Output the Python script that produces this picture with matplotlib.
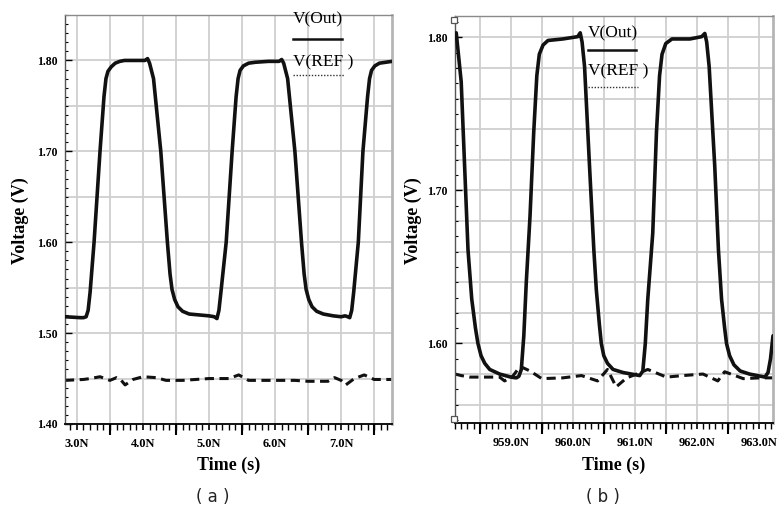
import matplotlib
matplotlib.use("Agg")
import matplotlib.pyplot as plt
import numpy as np

# ---------------- data (a) ----------------
t_out_a = [2.82, 3.05, 3.10, 3.14, 3.17, 3.20, 3.26, 3.35, 3.41, 3.44, 3.47, 3.52, 3.58, 3.65, 3.72,
           3.90, 4.03, 4.07, 4.10, 4.16, 4.27, 4.37, 4.41, 4.44, 4.48, 4.53, 4.60, 4.70, 4.85, 5.00,
           5.08, 5.12, 5.15, 5.18, 5.26, 5.35, 5.41, 5.44, 5.47, 5.52, 5.60, 5.70, 5.90, 6.06, 6.10,
           6.13, 6.19, 6.30, 6.40, 6.44, 6.47, 6.51, 6.56, 6.63, 6.73, 6.88, 7.00, 7.06, 7.10, 7.13,
           7.16, 7.19, 7.26, 7.33, 7.40, 7.43, 7.46, 7.51, 7.58, 7.77]
v_out_a = [1.518, 1.517, 1.517, 1.518, 1.525, 1.545, 1.600, 1.700, 1.760, 1.780, 1.788, 1.793, 1.797, 1.799, 1.800,
           1.800, 1.800, 1.802, 1.797, 1.780, 1.700, 1.600, 1.565, 1.548, 1.537, 1.529, 1.524, 1.521, 1.520, 1.519,
           1.518, 1.516, 1.525, 1.545, 1.600, 1.700, 1.760, 1.780, 1.789, 1.794, 1.797, 1.798, 1.799, 1.799, 1.801,
           1.797, 1.780, 1.700, 1.600, 1.565, 1.548, 1.537, 1.529, 1.524, 1.521, 1.519, 1.518, 1.519, 1.518, 1.517,
           1.525, 1.545, 1.600, 1.700, 1.760, 1.780, 1.789, 1.794, 1.797, 1.799]
t_ref_a = [2.82, 3.10, 3.20, 3.35, 3.50, 3.60, 3.66, 3.73, 3.85, 4.00, 4.20, 4.35, 4.60, 4.80, 5.00,
           5.30, 5.45, 5.60, 6.00, 6.30, 6.50, 6.80, 6.90, 7.00, 7.07, 7.20, 7.35, 7.50, 7.77]
v_ref_a = [1.448, 1.449, 1.450, 1.452, 1.448, 1.451, 1.449, 1.443, 1.449, 1.452, 1.451, 1.448, 1.448, 1.449, 1.450,
           1.450, 1.454, 1.448, 1.448, 1.448, 1.447, 1.447, 1.451, 1.448, 1.443, 1.450, 1.454, 1.449, 1.449]

# ---------------- data (b) ----------------
t_out_b = [958.12, 958.20, 958.31, 958.37, 958.43, 958.47, 958.52, 958.58, 958.66, 958.82, 959.00, 959.09,
           959.13, 959.17, 959.21, 959.25, 959.31, 959.37, 959.42, 959.46, 959.52, 959.60, 959.84, 960.08,
           960.12, 960.15, 960.19, 960.27, 960.34, 960.38, 960.43, 960.46, 960.50, 960.56, 960.65, 960.81,
           961.08, 961.13, 961.17, 961.21, 961.29, 961.35, 961.40, 961.44, 961.50, 961.60, 961.89, 962.08,
           962.13, 962.16, 962.20, 962.29, 962.35, 962.40, 962.45, 962.48, 962.53, 962.60, 962.70, 962.85,
           963.10, 963.15, 963.19, 963.23]
v_out_b = [1.803, 1.771, 1.661, 1.629, 1.610, 1.600, 1.592, 1.587, 1.583, 1.580, 1.578, 1.5775,
           1.5785, 1.583, 1.605, 1.640, 1.683, 1.738, 1.775, 1.789, 1.795, 1.798, 1.799, 1.8005,
           1.803, 1.797, 1.781, 1.716, 1.661, 1.635, 1.612, 1.600, 1.592, 1.587, 1.583, 1.581,
           1.579, 1.582, 1.600, 1.629, 1.672, 1.738, 1.775, 1.789, 1.796, 1.799, 1.799, 1.8005,
           1.8026, 1.797, 1.781, 1.716, 1.661, 1.629, 1.610, 1.600, 1.592, 1.586, 1.582, 1.580,
           1.578, 1.581, 1.590, 1.605]
t_ref_b = [958.10, 958.20, 958.34, 958.82, 958.90, 959.03, 959.15, 959.31, 959.50, 959.84, 960.14, 960.40,
           960.56, 960.70, 960.87, 961.03, 961.21, 961.51, 961.78, 962.10, 962.34, 962.45, 962.75, 963.02, 963.23]
v_ref_b = [1.580, 1.579, 1.578, 1.578, 1.5755, 1.5785, 1.585, 1.582, 1.577, 1.5775, 1.579, 1.5755,
           1.583, 1.5716, 1.5775, 1.580, 1.583, 1.578, 1.579, 1.580, 1.5755, 1.5815, 1.577, 1.5775, 1.5775]

x_labels_a = ["3.0N", "4.0N", "5.0N", "6.0N", "7.0N"]
x_labels_b = ["959.0N", "960.0N", "961.0N", "962.0N", "963.0N"]

SERIF = "Liberation Serif"
GRID = "#cfcfcf"

fig = plt.figure(figsize=(7.77, 5.08), dpi=100)


def make_panel(rect, tout, vout, tref, vref, xlim, ylim, xmaj, xlab, yticks, ygrid, yminor,
               leg, letter, ylab_x, letter_x, cursors):
    ax = fig.add_axes(rect)
    ax.set_xlim(*xlim)
    ax.set_ylim(*ylim)
    # grid
    for g in np.arange(np.floor(xlim[0] * 2) / 2, xlim[1] + 1e-9, 0.5):
        if xlim[0] < g < xlim[1]:
            ax.axvline(g, color=GRID, lw=1.3, zorder=0)
    for g in ygrid:
        ax.axhline(g, color=GRID, lw=1.3, zorder=0)
    ax.plot(tout, vout, color="#111111", lw=2.6, solid_capstyle="round",
            solid_joinstyle="round", zorder=3)
    ax.plot(tref, vref, color="#111111", lw=2.2, dashes=(3, 1.8), zorder=2)
    # ticks
    ax.set_xticks(xmaj)
    ax.set_xticklabels(xlab, fontfamily=SERIF, fontweight="bold", fontsize=9)
    ax.set_xticks(np.arange(np.ceil(xlim[0] * 10) / 10, xlim[1], 0.1), minor=True)
    ax.tick_params(axis="x", which="major", length=4, width=1.2, direction="out", pad=6)
    ax.tick_params(axis="x", which="minor", length=4, width=1.0, direction="out")
    ax.set_yticks(yticks)
    ax.set_yticklabels(["%.2f" % v for v in yticks], fontfamily=SERIF, fontweight="bold", fontsize=8.5)
    ax.set_yticks(yminor, minor=True)
    ax.tick_params(axis="y", which="major", length=5, width=1.0, direction="in", pad=5)
    ax.tick_params(axis="y", which="minor", length=2.5, width=0.8, direction="in")
    # long ticks at half positions
    ax2 = ax.twiny()
    ax2.set_xlim(*xlim)
    ax2.xaxis.set_ticks_position("bottom")
    halves = [h + 0.5 for h in xmaj if xlim[0] < h + 0.5 < xlim[1]]
    halves += [h - 0.5 for h in xmaj[:1] if xlim[0] < h - 0.5]
    ax2.set_xticks(halves)
    ax2.set_xticklabels([""] * len(halves))
    ax2.tick_params(axis="x", length=8, width=1.5, direction="out")
    for s in ax2.spines.values():
        s.set_visible(False)
    # spines
    ax.spines["bottom"].set_color("#111111")
    ax.spines["bottom"].set_linewidth(1.4)
    ax.spines["left"].set_color("#555555")
    ax.spines["left"].set_linewidth(1.0)
    ax.spines["top"].set_color("#8a8a8a")
    ax.spines["top"].set_linewidth(1.0)
    ax.spines["right"].set_color("#b5b5b5")
    ax.spines["right"].set_linewidth(2.0)
    if cursors:
        ax.plot([-0.004, -0.004], [0.99, 0.01], transform=ax.transAxes, ls="none", marker="s",
                ms=4.5, mfc="white", mec="#555555", mew=0.9, zorder=6, clip_on=False)
    # legend
    lx0, lx1, y_t1, y_l1, y_t2, y_l2 = leg
    ax.text(lx0, y_t1, "V(Out)", transform=ax.transAxes, fontfamily=SERIF, fontsize=12.5,
            ha="left", va="center", zorder=5)
    ax.plot([lx0, lx1], [y_l1, y_l1], transform=ax.transAxes, color="#111111", lw=1.8, zorder=5)
    ax.text(lx0, y_t2, "V(REF )", transform=ax.transAxes, fontfamily=SERIF, fontsize=12.5,
            ha="left", va="center", zorder=5)
    ax.plot([lx0, lx1 + 0.005], [y_l2, y_l2], transform=ax.transAxes, color="#333333", lw=1.0,
            dashes=(1, 1.2), zorder=5)
    # labels
    fig.text(ylab_x, 0.565, "Voltage (V)", rotation=90, fontfamily=SERIF, fontweight="bold",
             fontsize=13, ha="center", va="center")
    fig.text(rect[0] + rect[2] / 2, 1 - 465 / 508, "Time (s)", fontfamily=SERIF, fontweight="bold",
             fontsize=13, ha="center", va="center")
    fig.text(letter_x, 1 - 497 / 508, letter, fontfamily="DejaVu Sans", fontsize=12,
             ha="center", va="center", color="#222222")
    return ax


make_panel([65 / 777, 1 - 424 / 508, 327 / 777, 409 / 508],
           t_out_a, v_out_a, t_ref_a, v_ref_a,
           (2.82, 7.77), (1.40, 1.85),
           [3.0, 4.0, 5.0, 6.0, 7.0], x_labels_a,
           [1.40, 1.50, 1.60, 1.70, 1.80],
           np.arange(1.40, 1.851, 0.05),
           np.arange(1.40, 1.851, 0.01),
           (0.697, 0.847, 0.99, 0.941, 0.885, 0.853),
           "( a )", 20 / 777, 213 / 777, False)

make_panel([455 / 777, 1 - 423 / 508, 318 / 777, 407 / 508],
           t_out_b, v_out_b, t_ref_b, v_ref_b,
           (958.10, 963.23), (1.548, 1.814),
           [959.0, 960.0, 961.0, 962.0, 963.0], x_labels_b,
           [1.60, 1.70, 1.80],
           np.arange(1.56, 1.814, 0.02),
           np.arange(1.55, 1.814, 0.01),
           (0.418, 0.569, 0.958, 0.916, 0.865, 0.826),
           "( b )", 413 / 777, 603 / 777, True)

fig.savefig("out.png", dpi=100)
